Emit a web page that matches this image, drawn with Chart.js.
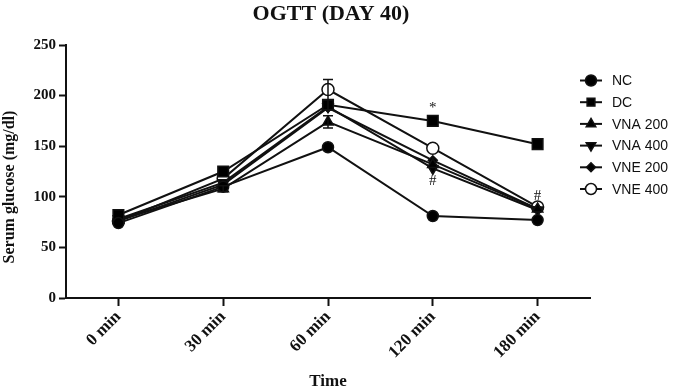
<!DOCTYPE html>
<html>
<head>
<meta charset="utf-8">
<script src="https://cdn.jsdelivr.net/npm/chart.js@4.4.1/dist/chart.umd.min.js"></script>
<style>
html,body{margin:0;padding:0;background:#fff;}
#wrap{width:677px;height:392px;position:relative;}
</style>
</head>
<body>
<div id="wrap"><canvas id="c" width="677" height="392"></canvas></div>
<script>
const categories = ['0 min', '30 min', '60 min', '120 min', '180 min'];
const seriesNames = ['NC', 'DC', 'VNA 200', 'VNA 400', 'VNE 200', 'VNE 400'];
const NC      = [74, 110, 149, 81, 77];
const DC      = [82, 125, 191, 175, 152];
const VNA200  = [77, 108, 174, 132, 88];
const VNA400  = [78, 114, 189, 128, 87];
const VNE200  = [76, 112, 188, 136, 88];
const VNE400  = [76, 118, 206, 148, 90];
const errNC     = [0, 0, 0, 0, 0];
const errDC     = [0, 0, 5, 0, 0];
const errVNA200 = [0, 3, 6, 0, 0];
const errVNA400 = [0, 0, 0, 0, 0];
const errVNE200 = [0, 0, 0, 0, 0];
const errVNE400 = [0, 0, 10, 0, 0];
const yTicks = [0, 50, 100, 150, 200, 250];
// significance marks: [category index, value, symbol]
const marks = [[3, 188, '*'], [3, 116, '#'], [4, 101, '#']];

const values = [NC, DC, VNA200, VNA400, VNE200, VNE400];
const errors = [errNC, errDC, errVNA200, errVNA400, errVNE200, errVNE400];
const styles = [
  {pointStyle:'circle', radius:5.5, rotation:0, fill:'#000'},
  {pointStyle:'rect', radius:7.5, rotation:0, fill:'#000'},
  {pointStyle:'triangle', radius:6, rotation:0, fill:'#000'},
  {pointStyle:'triangle', radius:6, rotation:180, fill:'#000'},
  {pointStyle:'rectRot', radius:4.5, rotation:0, fill:'#000'},
  {pointStyle:'circle', radius:6, rotation:0, fill:'#fff'}
];

const datasets = seriesNames.map((n, i) => ({
  label: n,
  data: values[i],
  borderColor: '#111',
  borderWidth: 2,
  backgroundColor: styles[i].fill,
  pointStyle: styles[i].pointStyle,
  pointRadius: styles[i].radius,
  pointRotation: styles[i].rotation,
  pointBackgroundColor: styles[i].fill,
  pointBorderColor: '#111',
  pointBorderWidth: 1.5,
  tension: 0,
  fill: false
}));

const errorBarPlugin = {
  id: 'errbars',
  afterDatasetsDraw(chart) {
    const ctx = chart.ctx, y = chart.scales.y;
    ctx.save();
    ctx.strokeStyle = '#111';
    ctx.lineWidth = 1.5;
    chart.data.datasets.forEach((ds, i) => {
      const meta = chart.getDatasetMeta(i);
      errors[i].forEach((e, j) => {
        if (!e) return;
        const pt = meta.data[j];
        const yt = y.getPixelForValue(values[i][j] + e);
        const yb = y.getPixelForValue(values[i][j] - e);
        ctx.beginPath();
        ctx.moveTo(pt.x, yt); ctx.lineTo(pt.x, yb);
        ctx.moveTo(pt.x - 5, yt); ctx.lineTo(pt.x + 5, yt);
        ctx.moveTo(pt.x - 5, yb); ctx.lineTo(pt.x + 5, yb);
        ctx.stroke();
      });
    });
    ctx.restore();
  }
};

const decorPlugin = {
  id: 'decor',
  afterDraw(chart) {
    const ctx = chart.ctx, xs = chart.scales.x, ys = chart.scales.y;
    ctx.save();
    // title
    ctx.fillStyle = '#111';
    ctx.font = 'bold 22px "Liberation Serif", "Times New Roman", serif';
    ctx.textAlign = 'center';
    ctx.textBaseline = 'middle';
    ctx.fillText('OGTT (DAY 40)', 331, 14);
    // y axis title
    ctx.save();
    ctx.translate(10, 187);
    ctx.rotate(-Math.PI / 2);
    ctx.font = 'bold 16px "Liberation Serif", serif';
    ctx.fillText('Serum glucose (mg/dl)', 0, 0);
    ctx.restore();
    // significance marks
    ctx.font = '15px "Liberation Serif", serif';
    marks.forEach(m => {
      ctx.fillText(m[2], xs.getPixelForValue(m[0]), ys.getPixelForValue(m[1]));
    });
    // legend
    ctx.font = '14px "Liberation Sans", Arial, sans-serif';
    ctx.textAlign = 'left';
    seriesNames.forEach((n, i) => {
      const yy = 80.5 + i * 21.7;
      ctx.strokeStyle = '#111';
      ctx.lineWidth = 2;
      ctx.beginPath();
      ctx.moveTo(580, yy); ctx.lineTo(602, yy);
      ctx.stroke();
      const st = styles[i];
      ctx.fillStyle = st.fill;
      ctx.lineWidth = 1.5;
      Chart.helpers.drawPoint(ctx, {
        pointStyle: st.pointStyle,
        radius: Math.min(st.radius, 5.5),
        rotation: st.rotation,
        borderWidth: 1.5
      }, 591, yy);
      ctx.fillStyle = '#111';
      ctx.fillText(n, 612, yy + 1);
    });
    ctx.restore();
  }
};

new Chart(document.getElementById('c'), {
  type: 'line',
  data: { labels: categories, datasets },
  options: {
    responsive: false,
    animation: false,
    devicePixelRatio: 1,
    layout: { padding: { top: 45, right: 87, bottom: 0, left: 0 } },
    plugins: { legend: { display: false }, title: { display: false }, tooltip: { enabled: false } },
    scales: {
      x: {
        type: 'category',
        offset: true,
        afterFit(s) { s.height = 94; },
        grid: { display: true, drawOnChartArea: false, drawTicks: true, tickLength: 8, tickWidth: 2, tickColor: '#111', offset: false },
        border: { display: true, color: '#111', width: 2 },
        ticks: {
          color: '#111', minRotation: 45, maxRotation: 45, padding: 1,
          font: { family: '"Liberation Serif", serif', size: 17, weight: 'bold' }
        },
        title: {
          display: true, text: 'Time', color: '#111',
          font: { family: '"Liberation Serif", serif', size: 17, weight: 'bold' },
          padding: { top: 0, bottom: 0 }
        }
      },
      y: {
        min: 0, max: 250,
        afterFit(s) { s.width = 66; },
        afterBuildTicks(s) { s.ticks = yTicks.map(v => ({ value: v })); },
        grid: { display: true, drawOnChartArea: false, drawTicks: true, tickLength: 7, tickWidth: 2, tickColor: '#111' },
        border: { display: true, color: '#111', width: 2 },
        ticks: {
          color: '#111', padding: 3,
          font: { family: '"Liberation Serif", serif', size: 15, weight: 'bold' }
        },
        title: { display: false }
      }
    }
  },
  plugins: [errorBarPlugin, decorPlugin]
});
</script>
</body>
</html>
